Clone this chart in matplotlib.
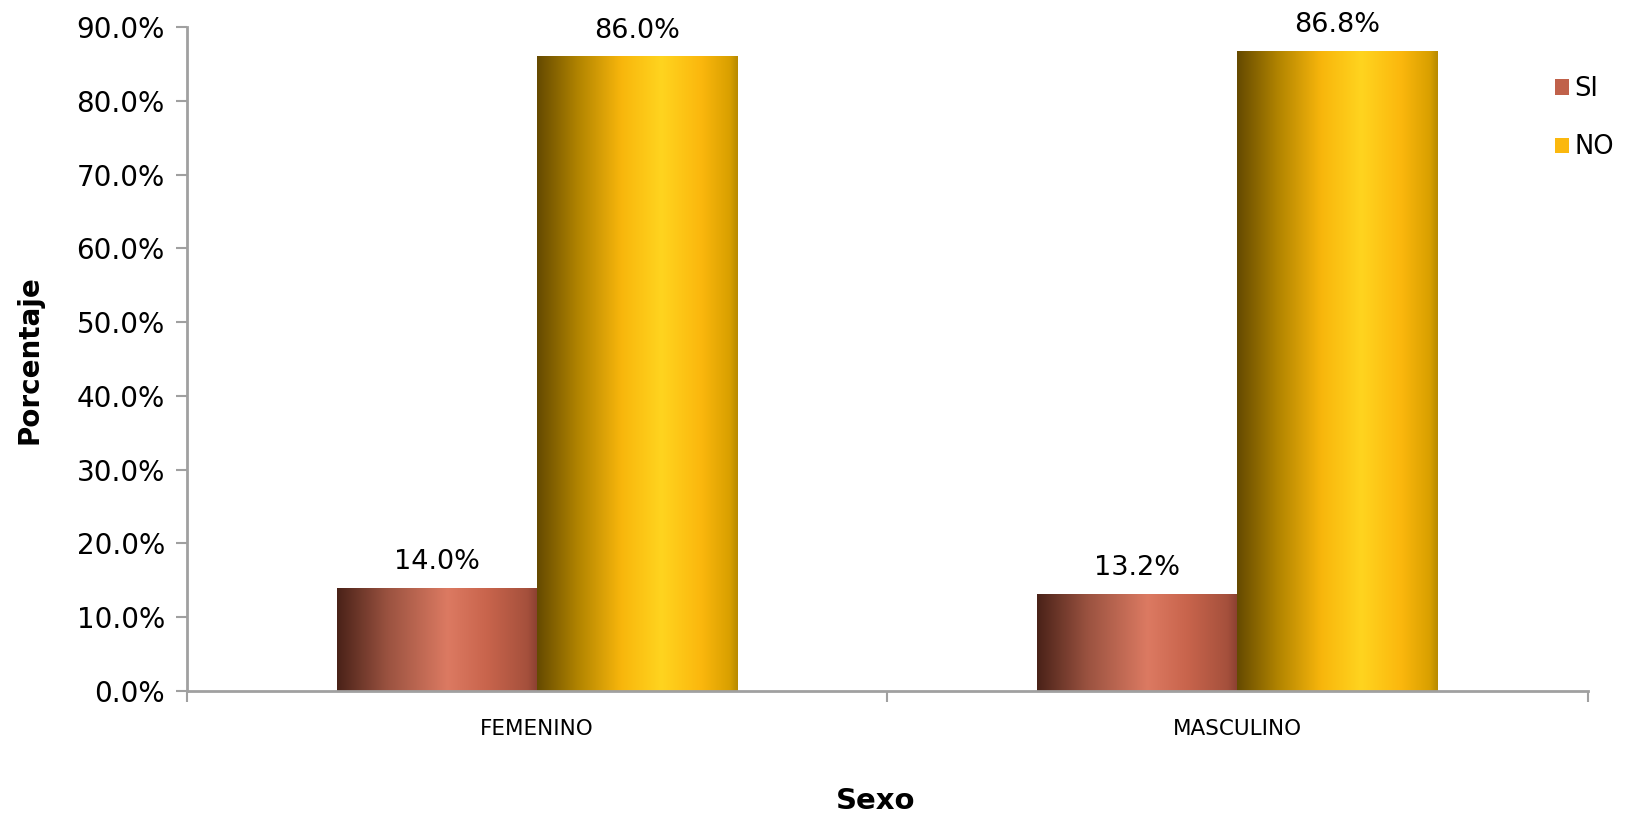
import matplotlib.pyplot as plt
import numpy as np
from matplotlib.colors import LinearSegmentedColormap
from matplotlib.patches import Patch

# data
categorias = ['FEMENINO', 'MASCULINO']
si = [14.0, 13.2]
no = [86.0, 86.8]
series = ['SI', 'NO']

# gradientes tipo "cilindro"
cmap_si = LinearSegmentedColormap.from_list('si', [
    (0.0, '#4a2218'), (0.25, '#9a5240'), (0.55, '#dc7a62'),
    (0.75, '#c8644c'), (0.95, '#a5503c'), (1.0, '#8a4030')])
cmap_no = LinearSegmentedColormap.from_list('no', [
    (0.0, '#654a00'), (0.2, '#b08300'), (0.42, '#f8b60c'),
    (0.62, '#ffd41f'), (0.82, '#fbb70d'), (0.96, '#d9a000'), (1.0, '#b88a00')])

fig = plt.figure(figsize=(16.35, 8.17), dpi=100)
ax = fig.add_axes([0.1144, 0.1542, 0.8566, 0.8128])

x = np.arange(len(categorias))
w = 0.286
b1 = ax.bar(x - w / 2, si, w, facecolor='none', edgecolor='none')
b2 = ax.bar(x + w / 2, no, w, facecolor='none', edgecolor='none')

grad = np.linspace(0, 1, 256).reshape(1, -1)
for bars, cm in [(b1, cmap_si), (b2, cmap_no)]:
    for p in bars:
        x0, y0 = p.get_x(), p.get_y()
        im = ax.imshow(grad, cmap=cm, aspect='auto', interpolation='bicubic',
                       extent=(x0, x0 + p.get_width(), y0, y0 + p.get_height()),
                       zorder=2)
        im.set_clip_path(p)

for bars, vals in [(b1, si), (b2, no)]:
    for p, v in zip(bars, vals):
        ax.text(p.get_x() + p.get_width() / 2, v + 1.7, '%.1f%%' % v,
                ha='center', va='bottom', fontsize=19.5)

ax.set_xlim(-0.5, 1.5)
ax.set_ylim(0, 90)
ax.set_yticks(np.arange(0, 91, 10))
ax.set_yticklabels(['%.1f%%' % t for t in np.arange(0, 91, 10)], fontsize=20)

# etiquetas de categoria sin marcas, marcas en los limites
ax.set_xticks([-0.5, 0.5, 1.5])
ax.set_xticklabels([])
ax.set_xticks(x, minor=True)
ax.set_xticklabels(categorias, minor=True, fontsize=15.5)
ax.tick_params(axis='x', which='minor', length=0, pad=20)
ax.tick_params(axis='x', which='major', length=8, width=1.5, color='#a0a0a0')
ax.tick_params(axis='y', length=8, width=1.5, color='#a0a0a0', pad=8)

for s in ['top', 'right']:
    ax.spines[s].set_visible(False)
for s in ['left', 'bottom']:
    ax.spines[s].set_color('#a0a0a0')
    ax.spines[s].set_linewidth(2)

fig.text(0.5355, 0.003, 'Sexo', ha='center', va='bottom', fontsize=21, fontweight='bold')
fig.text(0.018, 0.56, 'Porcentaje', ha='center', va='center', rotation=90,
         fontsize=20, fontweight='bold')

handles = [Patch(facecolor='#c0614a'), Patch(facecolor='#fbb80e')]
fig.legend(handles, series, loc='upper left', bbox_to_anchor=(0.937, 0.935),
           frameon=False, fontsize=18.5, handlelength=0.55, handleheight=0.55,
           handletextpad=0.2, labelspacing=1.25)

plt.savefig('out.png', dpi=100)
